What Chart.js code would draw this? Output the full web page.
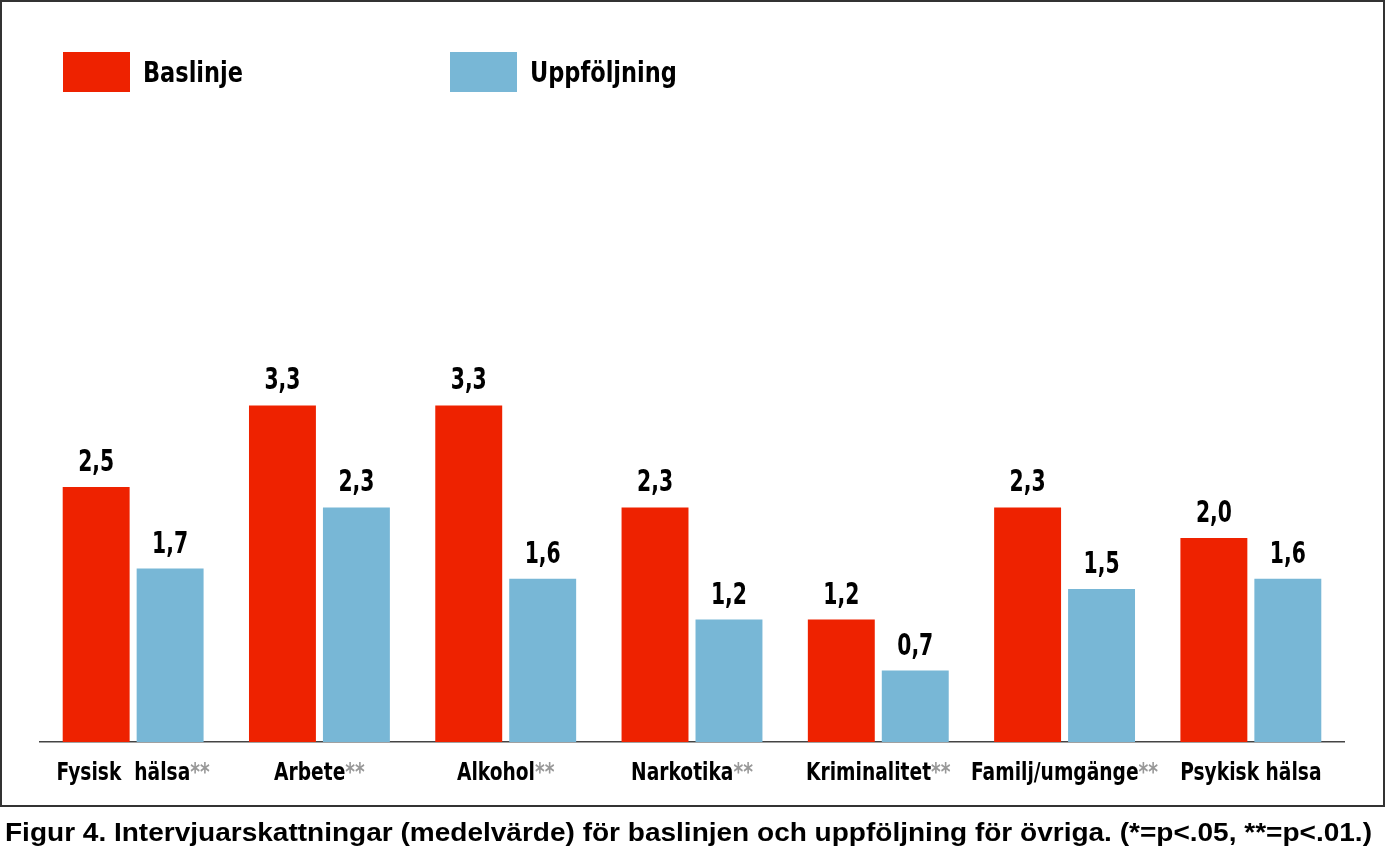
<!DOCTYPE html>
<html>
<head>
<meta charset="utf-8">
<script src="https://cdn.jsdelivr.net/npm/chart.js@4/dist/chart.umd.min.js"></script>
<style>
  body { margin: 0; background: #fff; }
  #wrap { position: relative; width: 1385px; height: 853px; }
  #frame { position: absolute; left: 0; top: 0; width: 1385px; height: 807px; box-sizing: border-box; border: 2px solid #333; pointer-events: none; }
  #caption { position: absolute; left: 5px; top: 817px; font-family: "Liberation Sans", Arial, sans-serif; font-weight: bold; font-size: 26px; color: #000; white-space: nowrap; transform-origin: 0 0; }
</style>
</head>
<body>
<div id="wrap">
  <canvas id="myChart" width="1385" height="853"></canvas>
  <div id="frame"></div>
  <div id="caption">Figur 4. Intervjuarskattningar (medelvärde) för baslinjen och uppföljning för övriga. (*=p&lt;.05, **=p&lt;.01.)</div>
</div>
<script>
const categories = ['Fysisk  hälsa', 'Arbete', 'Alkohol', 'Narkotika', 'Kriminalitet', 'Familj/umgänge', 'Psykisk hälsa'];
const significance = ['**', '**', '**', '**', '**', '**', ''];
const baslinje = [2.5, 3.3, 3.3, 2.3, 1.2, 2.3, 2.0];
const uppfoljning = [1.7, 2.3, 1.6, 1.2, 0.7, 1.5, 1.6];

const condensed = '"DejaVu Sans Condensed", "DejaVu Sans", sans-serif';

// the figure uses a narrow bold face, so squeeze text horizontally to match
function squeeze(ctx, sample, target) {
  return target / ctx.measureText(sample).width;
}

function drawSqueezed(ctx, text, x, y, k) {
  ctx.save();
  ctx.translate(x, y);
  ctx.scale(k, 1);
  ctx.fillText(text, 0, 0);
  ctx.restore();
}

// legend drawn by hand so the two entries can sit where they do in the figure
const legendPlugin = {
  id: 'figLegend',
  afterDraw(chart) {
    const ctx = chart.ctx;
    const xs = [63, 450];
    ctx.save();
    ctx.font = 'bold 28px ' + condensed;
    ctx.textBaseline = 'alphabetic';
    ctx.textAlign = 'left';
    const k = squeeze(ctx, 'Baslinje', 100);
    chart.data.datasets.forEach((ds, i) => {
      ctx.fillStyle = ds.backgroundColor;
      ctx.fillRect(xs[i], 52, 67, 40);
      ctx.fillStyle = '#000';
      drawSqueezed(ctx, ds.label, xs[i] + 80, 82, k);
    });
    ctx.restore();
  }
};

// value labels over each bar
const valuePlugin = {
  id: 'valueLabels',
  afterDatasetsDraw(chart) {
    const ctx = chart.ctx;
    ctx.save();
    ctx.font = 'bold 30px ' + condensed;
    ctx.fillStyle = '#000';
    ctx.textAlign = 'left';
    ctx.textBaseline = 'alphabetic';
    const k = squeeze(ctx, '3,3', 36);
    chart.data.datasets.forEach((ds, di) => {
      chart.getDatasetMeta(di).data.forEach((bar, i) => {
        const txt = ds.data[i].toFixed(1).replace('.', ',');
        const w = ctx.measureText(txt).width * k;
        drawSqueezed(ctx, txt, bar.x - w / 2, bar.y - 16, k);
      });
    });
    ctx.restore();
  }
};

// category labels, with grey significance stars
const xLabelPlugin = {
  id: 'xLabels',
  afterDraw(chart) {
    const ctx = chart.ctx;
    const xScale = chart.scales.x;
    ctx.save();
    ctx.font = 'bold 25px ' + condensed;
    ctx.textAlign = 'left';
    ctx.textBaseline = 'alphabetic';
    const k = squeeze(ctx, 'Familj/umgänge**', 187);
    categories.forEach((cat, i) => {
      const stars = significance[i];
      const w1 = ctx.measureText(cat).width * k;
      const w2 = stars ? ctx.measureText(stars).width * k : 0;
      const x0 = xScale.getPixelForValue(i) - (w1 + w2) / 2;
      ctx.fillStyle = '#000';
      drawSqueezed(ctx, cat, x0, 780, k);
      if (stars) {
        ctx.fillStyle = '#999';
        drawSqueezed(ctx, stars, x0 + w1, 780, k);
      }
    });
    ctx.restore();
  }
};

const ctx = document.getElementById('myChart').getContext('2d');
const myChart = new Chart(ctx, {
  type: 'bar',
  data: {
    labels: categories,
    datasets: [
      {
        label: 'Baslinje',
        data: baslinje,
        backgroundColor: 'rgb(238, 34, 0)',
        categoryPercentage: 0.794,
        barPercentage: 0.905
      },
      {
        label: 'Uppföljning',
        data: uppfoljning,
        backgroundColor: 'rgb(120, 183, 214)',
        categoryPercentage: 0.794,
        barPercentage: 0.905
      }
    ]
  },
  options: {
    responsive: false,
    animation: false,
    layout: { padding: { left: 40, right: 41, top: 130, bottom: 111 } },
    plugins: {
      legend: { display: false },
      tooltip: { enabled: false }
    },
    scales: {
      x: {
        grid: { display: false },
        ticks: { display: false },
        border: { display: true, color: '#444', width: 1.5 },
        afterFit: (s) => { s.height = 0; }
      },
      y: {
        display: false,
        min: 0,
        max: 6
      }
    }
  },
  plugins: [legendPlugin, valuePlugin, xLabelPlugin]
});

// stretch the caption to the width it has in the figure
const cap = document.getElementById('caption');
cap.style.transform = 'scaleX(' + (1367 / cap.getBoundingClientRect().width) + ')';
</script>
</body>
</html>
